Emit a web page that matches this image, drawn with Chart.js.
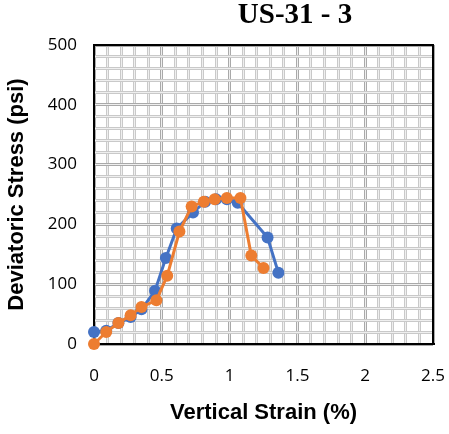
<!DOCTYPE html>
<html>
<head>
<meta charset="utf-8">
<script src="https://cdn.jsdelivr.net/npm/chart.js@4"></script>
<style>
  html, body { margin: 0; padding: 0; background: #fff; }
  #wrap { width: 449px; height: 434px; }
</style>
</head>
<body>
<div id="wrap"><canvas id="strainChart" width="449" height="434"></canvas></div>
<script>
// US-31 - 3 : deviatoric stress vs vertical strain, two runs
const chartTitle = 'US-31 - 3';
const blueStrain = [0, 0.09, 0.18, 0.27, 0.35, 0.45, 0.53, 0.61, 0.73, 0.82, 0.90, 0.98, 1.06, 1.28, 1.36];
const blueStress = [20, 22, 35, 45, 58, 89, 144, 193, 220, 238, 242, 242, 236, 178, 119];
const orangeStrain = [0, 0.09, 0.18, 0.27, 0.35, 0.46, 0.54, 0.63, 0.72, 0.81, 0.89, 0.98, 1.08, 1.16, 1.25];
const orangeStress = [0, 20, 35, 48, 62, 73, 114, 188, 230, 238, 242, 244, 244, 148, 127];
const xTickLabels = [0, 0.5, 1, 1.5, 2, 2.5];
const yTickLabels = [0, 100, 200, 300, 400, 500];

const toPoints = (xs, ys) => xs.map((x, i) => ({ x: x, y: ys[i] }));
const isLabel = (list, v) => list.some(t => Math.abs(t - v) < 1e-6);

const tickFont = { family: '"Open Sans", sans-serif', size: 17 };
const axisTitleFont = { family: '"Liberation Sans", Arial, sans-serif', size: 22, weight: 'bold' };

// title drawn off-centre like the original
const titlePlugin = {
    id: 'offTitle',
    afterDraw(chart) {
        const c = chart.ctx;
        c.save();
        c.font = 'bold 29px "Liberation Serif", "Times New Roman", serif';
        c.fillStyle = '#000';
        c.textAlign = 'center';
        c.textBaseline = 'middle';
        c.fillText(chartTitle, 295, 16);
        c.restore();
    }
};

const mainGrid = (list) => ({
    color: ctx => isLabel(list, ctx.tick.value) ? '#a9a9a9' : '#c9c9c9',
    lineWidth: 3,
    drawTicks: false
});
const overlayGrid = { color: '#efefef', lineWidth: 1, drawTicks: false };

const minorX = s => { s.ticks = []; for (let i = 0; i <= 25; i++) s.ticks.push({ value: i / 10 }); };
const minorY = s => { s.ticks = []; for (let i = 0; i <= 25; i++) s.ticks.push({ value: i * 20 }); };
const noPad = s => { s.paddingLeft = 0; s.paddingRight = 0; s.paddingTop = 0; s.paddingBottom = 0; };

new Chart(document.getElementById('strainChart').getContext('2d'), {
    type: 'line',
    data: {
        datasets: [{
            label: 'Run 2',
            data: toPoints(orangeStrain, orangeStress),
            borderColor: '#ED7D31',
            backgroundColor: '#ED7D31',
            borderWidth: 3,
            pointRadius: 6,
            pointBorderWidth: 0,
            clip: false,
            order: 0
        }, {
            label: 'Run 1',
            data: toPoints(blueStrain, blueStress),
            borderColor: '#4472C4',
            backgroundColor: '#4472C4',
            borderWidth: 3,
            pointRadius: 6,
            pointBorderWidth: 0,
            clip: false,
            order: 1
        }]
    },
    options: {
        responsive: false,
        animation: false,
        layout: { padding: { top: 45, right: 16, left: 0, bottom: 0 } },
        plugins: { legend: { display: false }, tooltip: { enabled: false } },
        scales: {
            x: {
                type: 'linear', position: 'bottom', min: 0, max: 2.5,
                afterBuildTicks: minorX,
                ticks: {
                    autoSkip: false, maxRotation: 0, padding: 22, color: '#000', font: tickFont,
                    callback: v => isLabel(xTickLabels, v) ? String(+v.toFixed(1)) : ''
                },
                grid: mainGrid(xTickLabels),
                border: { color: '#000', width: 2 },
                title: { display: true, text: 'Vertical Strain (%)', color: '#000', font: axisTitleFont, padding: { top: 4, bottom: 8 } },
                afterFit: s => { s.height = 90; noPad(s); }
            },
            x2: {
                type: 'linear', position: 'top', min: 0, max: 2.5,
                afterBuildTicks: minorX,
                ticks: { display: false },
                grid: overlayGrid,
                border: { color: '#000', width: 2 },
                afterFit: s => { s.height = 0; noPad(s); }
            },
            y: {
                type: 'linear', position: 'left', min: 0, max: 500,
                afterBuildTicks: minorY,
                ticks: {
                    autoSkip: false, padding: 17, color: '#000', font: tickFont,
                    callback: v => isLabel(yTickLabels, v) ? String(v) : ''
                },
                grid: mainGrid(yTickLabels),
                border: { color: '#000', width: 2 },
                title: { display: true, text: 'Deviatoric Stress (psi)', color: '#000', font: axisTitleFont, padding: { top: 4, bottom: 0 } },
                afterFit: s => { s.width = 94; noPad(s); }
            },
            y2: {
                type: 'linear', position: 'right', min: 0, max: 500,
                afterBuildTicks: minorY,
                ticks: { display: false },
                grid: overlayGrid,
                border: { color: '#000', width: 2 },
                afterFit: s => { s.width = 0; noPad(s); }
            }
        }
    },
    plugins: [titlePlugin]
});
</script>
</body>
</html>
